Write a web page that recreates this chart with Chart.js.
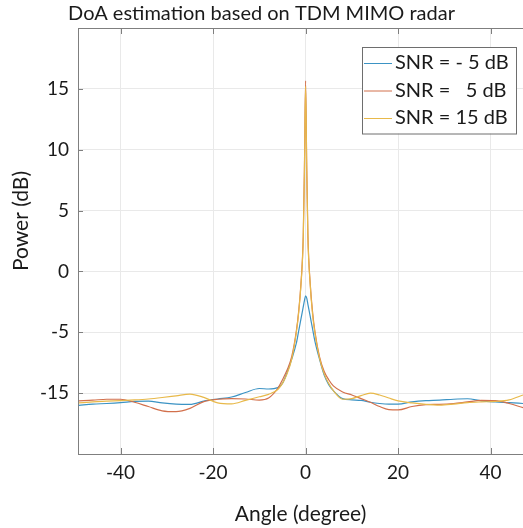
<!DOCTYPE html>
<html lang="en">
<head>
<meta charset="UTF-8">
<title>DoA estimation based on TDM MIMO radar</title>
<script src="https://cdn.jsdelivr.net/npm/chart.js"></script>
<style>
  html, body { margin: 0; padding: 0; background: #fff; }
  #wrap { width: 523px; height: 528px; }
</style>
</head>
<body>
<div id="wrap"><canvas id="doaChart"></canvas></div>
<script>
// angle grid (degree), denser around the main lobe
const angles = [-49, -46, -43, -40, -37, -34, -31, -28, -25, -22, -19, -16, -13, -10, -8, -6, -5, -4, -3, -2, -1.5, -1, -0.5, -0.25, 0,
                0.25, 0.5, 1, 1.5, 2, 3, 4, 5, 6, 8, 10, 12, 14, 16, 18, 20, 23, 26, 29, 32, 35, 38, 41, 44, 47];

// power values, in the plot's own axis units
const snrMinus5 = [-11.0, -10.9, -10.85, -10.78, -10.68, -10.65, -10.8, -10.9, -10.92, -10.66, -10.48, -10.32, -9.95, -9.62, -9.66, -9.55, -9.2, -8.3, -7.2, -5.9, -4.9, -3.9, -2.9, -2.4, -2.0,
                   -2.2, -2.7, -3.7, -4.7, -5.7, -7.2, -8.5, -9.3, -9.8, -10.45, -10.55, -10.6, -10.75, -10.85, -10.9, -10.9, -10.72, -10.62, -10.58, -10.5, -10.46, -10.63, -10.72, -10.78, -10.85];
const snr5 = [-10.63, -10.58, -10.5, -10.5, -10.75, -11.1, -11.45, -11.52, -11.25, -10.7, -10.5, -10.45, -10.48, -10.57, -10.4, -9.6, -8.9, -8.1, -7.0, -4.9, -3.3, -1.0, 3.0, 8.5, 15.65,
              8.5, 3.0, -1.0, -3.3, -4.9, -7.0, -8.2, -8.9, -9.4, -9.9, -10.15, -10.45, -10.75, -11.1, -11.35, -11.38, -11.1, -10.95, -10.92, -10.85, -10.72, -10.6, -10.62, -10.85, -11.2];
const snr15 = [-10.8, -10.72, -10.66, -10.62, -10.56, -10.48, -10.36, -10.22, -10.08, -10.35, -10.8, -10.88, -10.6, -10.3, -10.1, -9.7, -9.2, -8.4, -7.2, -5.0, -3.4, -1.1, 2.8, 8.2, 15.2,
               8.2, 2.8, -1.1, -3.5, -5.0, -7.1, -8.4, -9.2, -9.8, -10.5, -10.45, -10.2, -10.0, -10.15, -10.4, -10.63, -10.8, -10.92, -10.98, -10.9, -10.78, -10.72, -10.68, -10.55, -10.15];

const seriesLabels = ['SNR = - 5 dB', 'SNR =   5 dB', 'SNR = 15 dB'];
const seriesColors = ['#3b93c4', '#d2704c', '#e8b94a'];

const xTickValues = [-40, -20, 0, 20, 40];
const yTickValues = [-10, -5, 0, 5, 10, 15];
const yTickLabels = ['-15', '-5', '0', '5', '10', '15'];

const FONT = 'Lato, "Open Sans", sans-serif';
const AXIS_GREY = '#7f7f7f';
const TEXT = '#1a1a1a';

function toPoints(values) {
    return angles.map((a, i) => ({ x: a, y: values[i] }));
}

// top border, inward ticks, y title and the boxed legend inside the plot
const matlabFrame = {
    id: 'matlabFrame',
    afterDatasetsDraw(chart) {
        const { ctx, chartArea: area, scales } = chart;
        ctx.save();
        ctx.strokeStyle = AXIS_GREY;
        ctx.lineWidth = 1;
        ctx.beginPath();
        ctx.moveTo(area.left, area.top + 0.5);
        ctx.lineTo(area.right, area.top + 0.5);
        xTickValues.forEach(v => {
            const px = Math.round(scales.x.getPixelForValue(v)) + 0.5;
            ctx.moveTo(px, area.bottom);
            ctx.lineTo(px, area.bottom - 6);
            ctx.moveTo(px, area.top);
            ctx.lineTo(px, area.top + 6);
        });
        yTickValues.forEach(v => {
            const py = Math.round(scales.y.getPixelForValue(v)) + 0.5;
            ctx.moveTo(area.left, py);
            ctx.lineTo(area.left + 5, py);
        });
        ctx.stroke();

        // y axis title
        ctx.save();
        ctx.translate(21, (area.top + area.bottom) / 2 - 20);
        ctx.rotate(-Math.PI / 2);
        ctx.font = '21px ' + FONT;
        ctx.fillStyle = TEXT;
        ctx.textAlign = 'center';
        ctx.textBaseline = 'middle';
        ctx.fillText('Power (dB)', 0, 0);
        ctx.restore();

        // legend
        ctx.font = '20px ' + FONT;
        const rowH = 27.5;
        const boxR = area.right - 7;
        const boxL = 362;
        const boxT = area.top + 19;
        const boxH = rowH * seriesLabels.length + 4;
        ctx.fillStyle = '#ffffff';
        ctx.fillRect(boxL, boxT, boxR - boxL, boxH);
        ctx.strokeStyle = '#6e6e6e';
        ctx.strokeRect(boxL + 0.5, boxT + 0.5, boxR - boxL, boxH);
        ctx.textBaseline = 'middle';
        ctx.textAlign = 'left';
        chart.data.datasets.forEach((ds, i) => {
            const cy = boxT + 16 + i * rowH;
            ctx.strokeStyle = ds.borderColor;
            ctx.beginPath();
            ctx.moveTo(boxL + 2, cy + 0.5);
            ctx.lineTo(boxL + 30, cy + 0.5);
            ctx.stroke();
            ctx.fillStyle = TEXT;
            ctx.fillText(ds.label, boxL + 33, cy);
        });
        ctx.restore();
    }
};

const ctx = document.getElementById('doaChart').getContext('2d');
new Chart(ctx, {
    type: 'line',
    data: {
        datasets: [
            { label: seriesLabels[0], data: toPoints(snrMinus5), borderColor: seriesColors[0], order: 2 },
            { label: seriesLabels[1], data: toPoints(snr5), borderColor: seriesColors[1], order: 1 },
            { label: seriesLabels[2], data: toPoints(snr15), borderColor: seriesColors[2], order: 0 }
        ]
    },
    options: {
        responsive: true,
        maintainAspectRatio: false,
        animation: false,
        layout: { padding: 0 },
        elements: {
            point: { radius: 0 },
            line: { borderWidth: 1.2, cubicInterpolationMode: 'monotone', fill: false }
        },
        plugins: {
            legend: { display: false },
            tooltip: { enabled: false },
            title: {
                display: true,
                text: 'DoA estimation based on TDM MIMO radar',
                color: TEXT,
                font: { family: FONT, size: 20, weight: 'normal' },
                padding: { top: 2, bottom: 2 }
            }
        },
        scales: {
            x: {
                type: 'linear',
                min: -49.2,
                max: 47,
                afterBuildTicks: scale => { scale.ticks = xTickValues.map(v => ({ value: v })); },
                afterFit: scale => { scale.height = 74; },
                grid: { color: '#e9e9e9', drawTicks: false },
                border: { color: AXIS_GREY },
                ticks: { color: TEXT, padding: 7, font: { family: FONT, size: 19 } },
                title: {
                    display: true,
                    text: 'Angle (degree)',
                    color: TEXT,
                    font: { family: FONT, size: 21 },
                    padding: { bottom: 1 }
                }
            },
            y: {
                min: -15,
                max: 20,
                afterBuildTicks: scale => { scale.ticks = yTickValues.map(v => ({ value: v })); },
                afterFit: scale => { scale.width = 78; },
                grid: { color: '#e9e9e9', drawTicks: false },
                border: { color: AXIS_GREY },
                ticks: {
                    color: TEXT,
                    padding: 9,
                    font: { family: FONT, size: 19 },
                    callback: v => yTickLabels[yTickValues.indexOf(v)]
                }
            }
        }
    },
    plugins: [matlabFrame]
});
</script>
</body>
</html>
